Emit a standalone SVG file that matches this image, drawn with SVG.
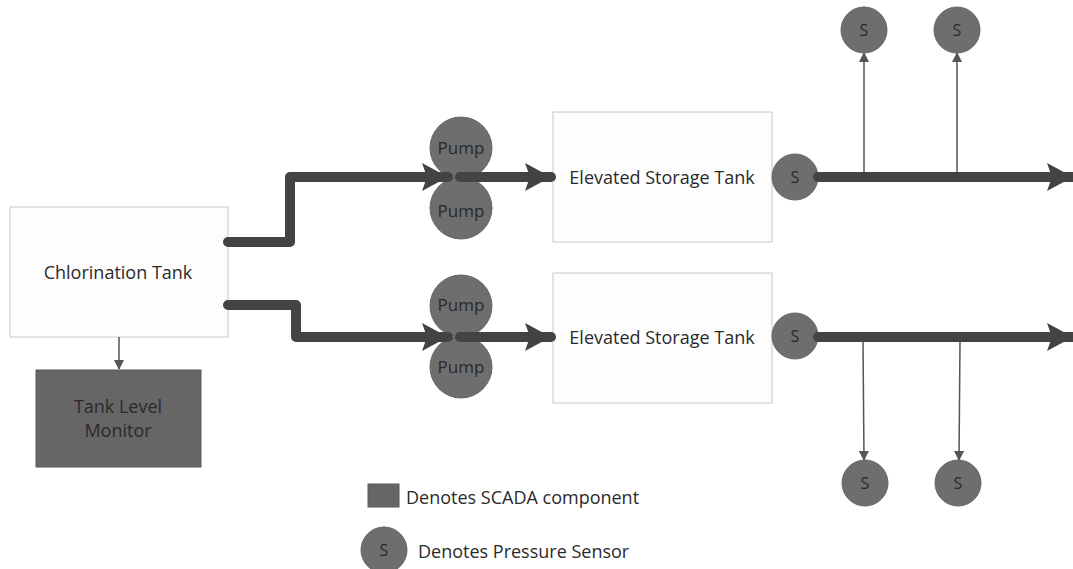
<svg xmlns="http://www.w3.org/2000/svg" width="1073" height="569" viewBox="0 0 1073 569">
<style>
.box{fill:#fdfdfd;stroke:#c8c8c8;stroke-width:1}
.scada{fill:#666666;stroke:#5a5a5a;stroke-width:1}
.circ{fill:#6e6e6e;stroke:#666;stroke-width:1}
.t{font-family:"Open Sans","Liberation Sans",sans-serif;font-size:18px;fill:#2a2a2a;text-anchor:middle;dominant-baseline:central}
.tp{font-family:"Open Sans","Liberation Sans",sans-serif;font-size:17px;fill:#2a2a2a;text-anchor:middle;dominant-baseline:central}
.tl{font-family:"Open Sans","Liberation Sans",sans-serif;font-size:18px;fill:#2a2a2a;dominant-baseline:central}
.ts{font-family:"Open Sans","Liberation Sans",sans-serif;font-size:16px;fill:#2a2a2a;text-anchor:middle;dominant-baseline:central}
.pipe{fill:none;stroke:#434343;stroke-width:10;stroke-linecap:round;stroke-linejoin:round}
.pipeh{fill:none;stroke:#434343;stroke-width:10;stroke-linecap:round}
.thin{fill:none;stroke:#555;stroke-width:1.5}
</style>
<defs>
<marker id="big" markerUnits="userSpaceOnUse" markerWidth="28" markerHeight="30" refX="26" refY="15" orient="auto">
<path d="M0,1 L26,15 L0,29 L5,15 Z" fill="#434343"/>
</marker>
<marker id="small" markerUnits="userSpaceOnUse" markerWidth="10" markerHeight="10" refX="9" refY="5" orient="auto">
<path d="M0,0 L10,5 L0,10 Z" fill="#555"/>
</marker>
</defs>

<g id="chlorination-tank">
<rect class="box" x="10" y="207" width="218" height="130"/>
<text class="t" x="118" y="272">Chlorination Tank</text>
</g>
<g id="tank-level-monitor">
<rect class="scada" x="36" y="370" width="165" height="97"/>
<text class="t" x="118" y="406">Tank Level</text>
<text class="t" x="118" y="430">Monitor</text>
</g>

<g id="pump-1a"><circle class="circ" cx="461" cy="148" r="31"/><text class="tp" x="461" y="147">Pump</text></g>
<g id="pump-1b"><circle class="circ" cx="461" cy="208" r="31"/><text class="tp" x="461" y="210">Pump</text></g>
<g id="pump-2a"><circle class="circ" cx="461" cy="306" r="31"/><text class="tp" x="461" y="304">Pump</text></g>
<g id="pump-2b"><circle class="circ" cx="461" cy="367" r="31"/><text class="tp" x="461" y="366">Pump</text></g>

<g id="storage-tank-1">
<rect class="box" x="553" y="112" width="219" height="130"/>
<text class="t" x="662" y="177">Elevated Storage Tank</text>
</g>
<g id="storage-tank-2">
<rect class="box" x="553" y="273" width="219" height="130"/>
<text class="t" x="662" y="337">Elevated Storage Tank</text>
</g>

<g id="sensor-1"><circle class="circ" cx="795" cy="177" r="23"/><text class="ts" x="795" y="177">S</text></g>
<g id="sensor-2"><circle class="circ" cx="795" cy="336" r="23"/><text class="ts" x="795" y="336">S</text></g>
<g id="sensor-3"><circle class="circ" cx="864" cy="30" r="23"/><text class="ts" x="864" y="30">S</text></g>
<g id="sensor-4"><circle class="circ" cx="957" cy="30" r="23"/><text class="ts" x="957" y="30">S</text></g>
<g id="sensor-5"><circle class="circ" cx="865" cy="483" r="23"/><text class="ts" x="865" y="483">S</text></g>
<g id="sensor-6"><circle class="circ" cx="958" cy="483" r="23"/><text class="ts" x="958" y="483">S</text></g>

<g id="connectors">
<line class="thin" x1="119" y1="337" x2="119" y2="369" marker-end="url(#small)"/>
<polyline class="pipe" points="228,242 290,242 290,177 448,177" marker-end="url(#big)"/>
<polyline class="pipe" points="228,305 296,305 296,337 448,337" marker-end="url(#big)"/>
<line class="pipeh" x1="460" y1="177" x2="551" y2="177" marker-end="url(#big)"/>
<line class="pipeh" x1="460" y1="337" x2="551" y2="337" marker-end="url(#big)"/>
<line class="pipeh" x1="818" y1="177" x2="1073" y2="177" marker-end="url(#big)"/>
<line class="pipeh" x1="818" y1="337" x2="1073" y2="337" marker-end="url(#big)"/>
<line class="thin" x1="864" y1="172" x2="864" y2="53" marker-end="url(#small)"/>
<line class="thin" x1="957" y1="172" x2="957" y2="53" marker-end="url(#small)"/>
<line class="thin" x1="863" y1="342" x2="864" y2="460" marker-end="url(#small)"/>
<line class="thin" x1="960" y1="342" x2="959" y2="460" marker-end="url(#small)"/>
</g>

<g id="legend">
<rect class="scada" x="368" y="484" width="31" height="23"/>
<text class="tl" x="406" y="497">Denotes SCADA component</text>
<circle class="circ" cx="384" cy="550" r="23"/>
<text class="ts" x="384" y="550">S</text>
<text class="tl" x="418" y="551">Denotes Pressure Sensor</text>
</g>
</svg>
